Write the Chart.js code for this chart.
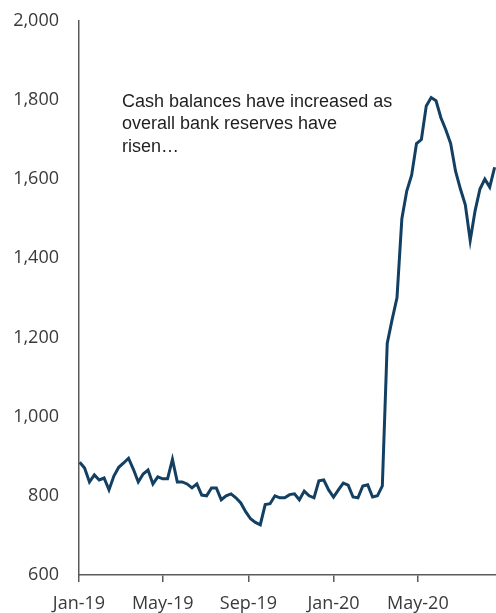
<!DOCTYPE html>
<html>
<head>
<meta charset="utf-8">
<script src="https://cdn.jsdelivr.net/npm/chart.js@4/dist/chart.umd.min.js"></script>
<style>
    body { margin: 0; background: #fff; }
    #wrap { width: 496px; height: 613px; overflow: hidden; }
    #cashChart { display: block; margin-top: -10px; }
</style>
</head>
<body>
<div id="wrap"><canvas id="cashChart" width="496" height="623"></canvas></div>
<script>
// weekly observations, first one on Wed 2 Jan 2019
const firstWeek = '2019-01-02';

// cash balances, USD bn
const cashValues = [
    885, 870, 835, 853, 840, 845, 815, 850, 872, 883,
    895, 867, 835, 855, 865, 830, 848, 843, 843, 892,
    835, 835, 830, 820, 830, 802, 800, 820, 820, 790,
    800, 805, 795, 782, 760, 742, 733, 727, 778, 780,
    800, 795, 795, 803, 805, 790, 812, 800, 795, 838,
    840, 815, 797, 815, 832, 827, 797, 795, 825, 828,
    797, 800, 825, 1185, 1245, 1300, 1500, 1570, 1610, 1690,
    1700, 1785, 1806, 1798, 1755, 1725, 1690, 1620, 1575, 1535,
    1445, 1520, 1575, 1600, 1580, 1630
];

const tickDates = ['2019-01-01', '2019-05-01', '2019-09-01', '2020-01-01', '2020-05-01'];
const tickLabels = ['Jan-19', 'May-19', 'Sep-19', 'Jan-20', 'May-20'];
const yTicks = [600, 800, 1000, 1200, 1400, 1600, 1800, 2000];

const noteLines = ['Cash balances have increased as', 'overall bank reserves have', 'risen…'];

const DAY = 86400000;
const origin = Date.UTC(2019, 0, 1);
const toDay = (s) => (Date.parse(s + 'T00:00:00Z') - origin) / DAY;

const startDay = toDay(firstWeek);
const points = cashValues.map((v, i) => ({ x: startDay + i * 7, y: v }));
const tickDays = tickDates.map(toDay);

// annotation text inside the plot (canvas is shifted up 10px)
const notePlugin = {
    id: 'note',
    afterDraw(chart) {
        const ctx = chart.ctx;
        ctx.save();
        ctx.font = '18px "Liberation Sans", Arial, sans-serif';
        ctx.fillStyle = '#1f1f1f';
        ctx.textBaseline = 'middle';
        noteLines.forEach((line, i) => {
            ctx.fillText(line, 122, 112 + i * 22.5);
        });
        ctx.restore();
    }
};

const axisColor = '#5a5a5a';
const labelFont = { family: '"Open Sans", "Noto Sans", sans-serif', size: 18 };

new Chart(document.getElementById('cashChart').getContext('2d'), {
    type: 'line',
    data: {
        datasets: [{
            data: points,
            borderColor: '#123f62',
            borderWidth: 3,
            pointRadius: 0,
            tension: 0,
            fill: false
        }]
    },
    options: {
        responsive: false,
        animation: false,
        layout: { padding: 0 },
        plugins: {
            legend: { display: false },
            tooltip: { enabled: false }
        },
        scales: {
            x: {
                type: 'linear',
                min: 0,
                max: 598,
                afterBuildTicks: (scale) => {
                    scale.ticks = tickDays.map(v => ({ value: v }));
                },
                afterFit: (scale) => { scale.height = 38; },
                ticks: {
                    autoSkip: false,
                    maxRotation: 0,
                    padding: 11,
                    color: '#3a3a3a',
                    font: labelFont,
                    callback: (value) => {
                        const idx = tickDays.indexOf(value);
                        return idx >= 0 ? tickLabels[idx] : '';
                    }
                },
                grid: {
                    drawOnChartArea: false,
                    drawTicks: true,
                    tickLength: 7,
                    color: axisColor,
                    lineWidth: 1.5
                },
                border: { display: true, color: axisColor, width: 1.5 }
            },
            y: {
                min: 600,
                max: 2000,
                afterBuildTicks: (scale) => {
                    scale.ticks = yTicks.map(v => ({ value: v }));
                },
                afterFit: (scale) => { scale.width = 79; },
                ticks: {
                    padding: 20,
                    color: '#3a3a3a',
                    font: labelFont,
                    callback: (value) => value.toLocaleString('en-US')
                },
                grid: { drawOnChartArea: false, drawTicks: false },
                border: { display: true, color: axisColor, width: 1.5 }
            }
        }
    },
    plugins: [notePlugin]
});
</script>
</body>
</html>
